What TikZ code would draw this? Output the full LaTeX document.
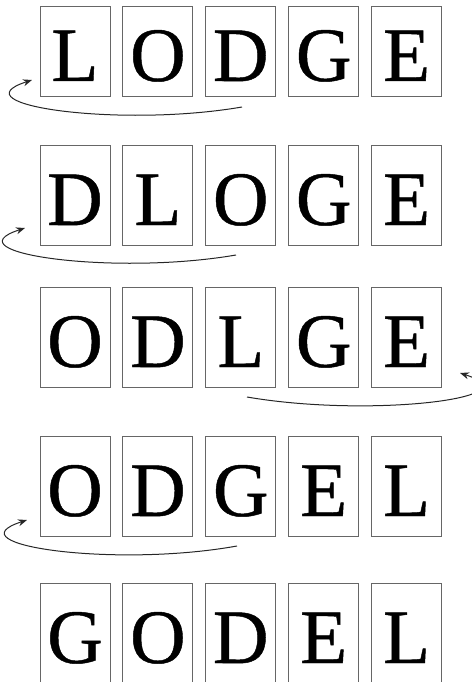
\documentclass[tikz,border=0pt]{standalone}
\usepackage{fontspec}
\newfontfamily\tileface[FakeBold=0.6]{Liberation Serif}
\usetikzlibrary{arrows.meta,positioning}

\begin{document}
\begin{tikzpicture}[
  x=1pt, y=-1pt,
  >={Stealth[length=9pt,width=7pt]},
  % letter tile; every row uses the same look
  tile/.style={rectangle, draw=black!60, line width=0.9pt,
               minimum width=70pt, minimum height=100pt, inner sep=0pt,
               text height=60pt, text depth=0pt,
               font=\tileface\fontsize{77}{80}\selectfont},
  swap/.style={->, black!85, line width=1pt},
]
\useasboundingbox (0,0) rectangle (471,682);

%% -- Row 1: LODGE --------------------------------------------------
\node[tile, minimum height=90pt] at (75,51)   (r1c1) {L};
\node[tile, minimum height=90pt, right=12pt of r1c1] (r1c2) {O};
\node[tile, minimum height=90pt, right=12pt of r1c2] (r1c3) {D};
\node[tile, minimum height=90pt, right=12pt of r1c3] (r1c4) {G};
\node[tile, minimum height=90pt, right=12pt of r1c4] (r1c5) {E};

%% -- Row 2: DLOGE --------------------------------------------------
\node[tile] at (75,195)              (r2c1) {D};
\node[tile, right=12pt of r2c1]      (r2c2) {L};
\node[tile, right=12pt of r2c2]      (r2c3) {O};
\node[tile, right=12pt of r2c3]      (r2c4) {G};
\node[tile, right=12pt of r2c4]      (r2c5) {E};

%% -- Row 3: ODLGE --------------------------------------------------
\node[tile] at (75,337)              (r3c1) {O};
\node[tile, right=12pt of r3c1]      (r3c2) {D};
\node[tile, right=12pt of r3c2]      (r3c3) {L};
\node[tile, right=12pt of r3c3]      (r3c4) {G};
\node[tile, right=12pt of r3c4]      (r3c5) {E};

%% -- Row 4: ODGEL --------------------------------------------------
\node[tile] at (75,486)              (r4c1) {O};
\node[tile, right=12pt of r4c1]      (r4c2) {D};
\node[tile, right=12pt of r4c2]      (r4c3) {G};
\node[tile, right=12pt of r4c3]      (r4c4) {E};
\node[tile, right=12pt of r4c4]      (r4c5) {L};

%% -- Row 5: GODEL --------------------------------------------------
\node[tile] at (75,633)              (r5c1) {G};
\node[tile, right=12pt of r5c1]      (r5c2) {O};
\node[tile, right=12pt of r5c2]      (r5c3) {D};
\node[tile, right=12pt of r5c3]      (r5c4) {E};
\node[tile, right=12pt of r5c4]      (r5c5) {L};

%% -- Move arrows ---------------------------------------------------
\coordinate (s1) at (242,107); \coordinate (e1) at (32,80);
\coordinate (s2) at (236,255); \coordinate (e2) at (25,228);
\coordinate (s3) at (247,397); \coordinate (e3) at (460,373);
\coordinate (s4) at (237,546); \coordinate (e4) at (27,520);

\draw[swap] (s1) .. controls (120,128) and (-45,105) .. (e1);
\draw[swap] (s2) .. controls (114,276) and (-52,253) .. (e2);
\draw[swap] (s3) .. controls (369,418) and (537,398) .. (e3);
\draw[swap] (s4) .. controls (115,568) and (-50,545) .. (e4);

\end{tikzpicture}
\end{document}
